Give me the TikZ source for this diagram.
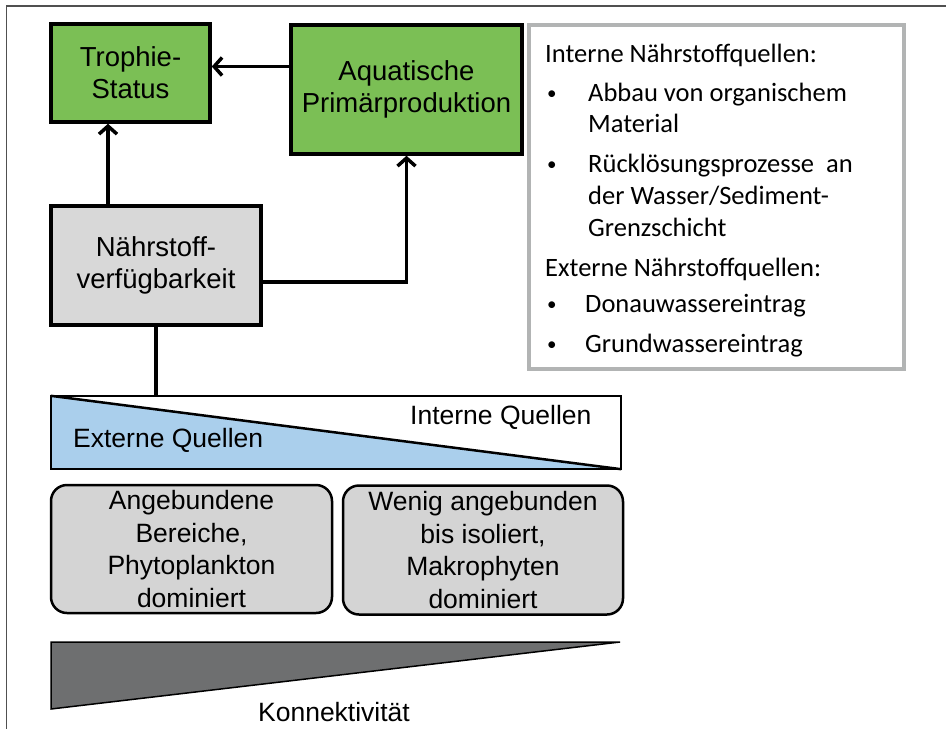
\documentclass[tikz,border=0pt]{standalone}
\usepackage{fontspec}
\setmainfont{Liberation Sans}
\newfontfamily\calfont{Carlito}
\usetikzlibrary{arrows.meta}
\definecolor{boxgreen}{RGB}{123,191,85}
\definecolor{boxgray}{RGB}{216,216,216}
\definecolor{roundgray}{RGB}{212,212,212}
\definecolor{srcblue}{RGB}{170,207,236}
\definecolor{darktri}{RGB}{110,111,112}
\definecolor{infoborder}{RGB}{178,180,180}
\definecolor{framegray}{RGB}{80,80,80}
\tikzset{
  txt/.style={font=\fontsize{27.5pt}{32pt}\selectfont, align=center},
  greenbox/.style={txt, draw=black, line width=3.5pt, fill=boxgreen, inner sep=0pt},
  graybox/.style={txt, draw=black, line width=3.5pt, fill=boxgray, inner sep=0pt},
  roundbox/.style={txt, draw=black, line width=2.5pt, fill=roundgray, rounded corners=16pt, inner sep=0pt,
    font=\fontsize{26.5pt}{32.5pt}\selectfont},
  conn/.style={line width=3.5pt, draw=black},
  arr/.style={conn, -{Straight Barb[length=8pt,width=18pt]}},
  info/.style={font=\calfont\fontsize{26.5pt}{31pt}\selectfont, anchor=base west, inner sep=0pt},
  bul/.style={font=\calfont\fontsize{19pt}{22pt}\selectfont, anchor=base west, inner sep=0pt},
  bandtxt/.style={font=\fontsize{26.5pt}{31.5pt}\selectfont, inner sep=0pt}
}
\begin{document}
\begin{tikzpicture}[x=1pt,y=-1pt]
\useasboundingbox (0,0) rectangle (946,729);
% outer frame (top and left)
\draw[framegray, line width=1.5pt] (946,6) -- (6.5,6) -- (6.5,729);

% main boxes
\node[greenbox, minimum width=159pt, minimum height=98pt] (tro) at (130.5,73) {Trophie-\\Status};
\node[greenbox, minimum width=231pt, minimum height=129pt] (aq) at (406.5,89.5) {Aquatische\\Primärproduktion};
\node[graybox, minimum width=210pt, minimum height=119pt] (nae) at (156,265.5) {Nährstoff-\\verfügbarkeit};

% connectors
\coordinate (t1) at ([yshift=6.5pt]tro.east);
\draw[arr] (aq.west |- t1) -- (t1);
\coordinate (c1) at (108,0);
\draw[arr] (nae.north -| c1) -- (tro.south -| c1);
\coordinate (n1) at ([yshift=-16.5pt]nae.east);
\draw[arr] (n1) -| (aq.south);

% info box
\draw[infoborder, line width=3.5pt] (529,25) rectangle (904,369);
\node[info] (i1) at (545,62) {Interne Nährstoffquellen:};
\node[bul] (b1) at (547,99) {•};
\node[info] (i2) at (588,101) {Abbau von organischem};
\node[info] (i3) at (588,132) {Material};
\node[bul] (b2) at (547,170) {•};
\node[info] (i4) at (588,172) {Rücklösungsprozesse\ \ an};
\node[info] (i5) at (588,204) {der Wasser/Sediment-};
\node[info] (i6) at (588,236) {Grenzschicht};
\node[info] (i7) at (545,276) {Externe Nährstoffquellen:};
\node[bul] (b3) at (547,310) {•};
\node[info] (i8) at (585,312) {Donauwassereintrag};
\node[bul] (b4) at (547,350) {•};
\node[info] (i9) at (585,352) {Grundwassereintrag};

% sources band
\node[draw=none, minimum width=570pt, minimum height=73pt, inner sep=0pt] (band) at (336,432.5) {};
\fill[srcblue] (band.north west) -- (band.south east) -- (band.south west) -- cycle;
\draw[black, line width=2.5pt] (band.north west) rectangle (band.south east);
\draw[black, line width=2.5pt] (band.north west) -- (band.south east);
\draw[conn] (nae.south) -- (band.north -| nae.south);
\node[bandtxt, anchor=west] (ext) at (73,440) {Externe Quellen};
\node[bandtxt, anchor=west] (int) at (410,417) {Interne Quellen};

% rounded boxes
\node[roundbox, minimum width=281pt, minimum height=128pt] (r1) at (191.5,549) {Angebundene\\Bereiche,\\Phytoplankton\\dominiert};
\node[roundbox, minimum width=280pt, minimum height=129pt] (r2) at (483,550) {Wenig angebunden\\bis isoliert,\\Makrophyten\\dominiert};

% connectivity wedge
\coordinate (k1) at (51,642);
\coordinate (k2) at (620,642);
\coordinate (k3) at (51,709);
\filldraw[fill=darktri, draw=black, line width=1.5pt, line join=miter] (k1) -- (k2) -- (k3) -- cycle;
\node[bandtxt] (kon) at (334,712) {Konnektivität};
\end{tikzpicture}
\end{document}
